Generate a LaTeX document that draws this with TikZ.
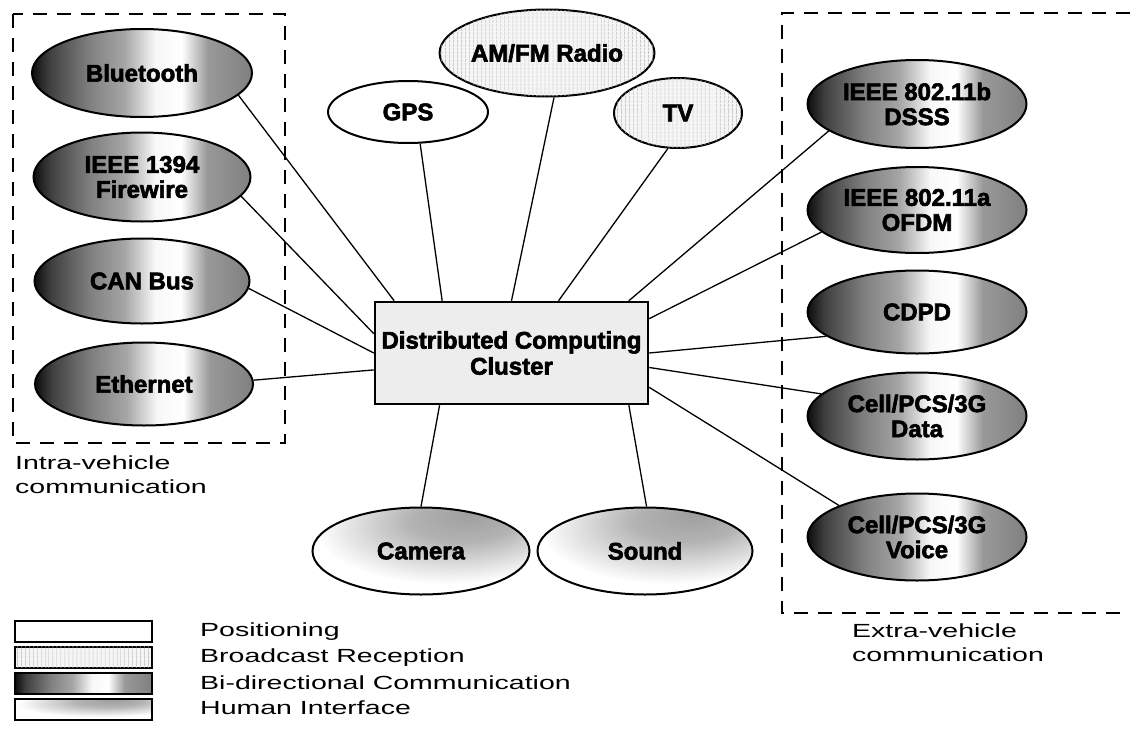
\documentclass[tikz,border=0pt]{standalone}
\usepackage{fontspec}
\setmainfont{Liberation Sans}[BoldFeatures={FakeBold=2.6}]
\newfontfamily\legfont{Liberation Sans}[FakeStretch=1.5]
\usetikzlibrary{shapes.geometric,patterns.meta}
\pgfdeclarehorizontalshading{bidirsh}{100bp}{color(0bp)=(black!95); color(25bp)=(black!95); color(29bp)=(black!75); color(38bp)=(black!50); color(46bp)=(black!35); color(53bp)=(black!3); color(59bp)=(white); color(65bp)=(black!40); color(75bp)=(black!50); color(100bp)=(black!50)}
\pgfdeclareradialshading{humansh}{\pgfpoint{12bp}{22bp}}{color(0bp)=(black!38); color(12bp)=(black!30); color(30bp)=(white); color(60bp)=(white)}
\tikzset{
  ell/.style={ellipse, draw, line width=2pt, inner sep=0pt, align=center,
    font=\fontsize{24}{25}\selectfont\bfseries},
  posit/.style={ell, fill=white},
  bcast/.style={ell, fill=black!4, postaction={pattern={Lines[angle=90,distance=4pt,line width=0.6pt]}, pattern color=black!35}},
  bidir/.style={ell, shade, shading=bidirsh},
  human/.style={ell, shade, shading=humansh},
  link/.style={line width=1.3pt},
  group/.style={line width=2.2pt, dash pattern=on 14pt off 10pt},
  legbox/.style={draw, line width=2pt, minimum width=137pt, minimum height=21pt, inner sep=0pt},
  legtext/.style={anchor=west, inner sep=0pt, font=\legfont\fontsize{19}{24}\selectfont},
  grouplabel/.style={anchor=north west, inner sep=0pt, align=left, font=\legfont\fontsize{19}{24}\selectfont}
}
\begin{document}
\begin{tikzpicture}[x=1pt, y=-1pt]
\path[use as bounding box] (0,0) rectangle (1134,744);

% group boxes
\draw[group] (13,14) rectangle (285,443);
\draw[group] (1130,13) -- (782,13) -- (782,613) -- (1124,613);
\node[grouplabel] (intra) at (15,456) {Intra-vehicle\\communication};
\node[grouplabel] (extra) at (852,624) {Extra-vehicle\\communication};

% central box
\node[draw, line width=2.5pt, fill=black!7, minimum width=273pt, minimum height=102pt, inner sep=0pt, align=center,
  font=\fontsize{24}{26}\selectfont\bfseries] (box) at (511.5,353) {Distributed Computing\\Cluster};

% intra-vehicle
\node[bidir, minimum width=220pt, minimum height=88pt] (bt) at (142,73) {Bluetooth};
\node[bidir, minimum width=217pt, minimum height=89pt] (fw) at (142,177) {IEEE 1394\\Firewire};
\node[bidir, minimum width=215pt, minimum height=85pt] (can) at (142,281) {CAN Bus};
\node[bidir, minimum width=218pt, minimum height=83pt] (eth) at (144,384) {Ethernet};

% extra-vehicle
\node[bidir, minimum width=219pt, minimum height=88pt] (dsss) at (917,104) {IEEE 802.11b\\DSSS};
\node[bidir, minimum width=219pt, minimum height=86pt] (ofdm) at (917,210) {IEEE 802.11a\\OFDM};
\node[bidir, minimum width=219pt, minimum height=83pt] (cdpd) at (917,312) {CDPD};
\node[bidir, minimum width=219pt, minimum height=87pt] (data) at (917,416) {Cell/PCS/3G\\Data};
\node[bidir, minimum width=219pt, minimum height=87pt] (voice) at (917,537) {Cell/PCS/3G\\Voice};

% top
\node[posit, minimum width=160pt, minimum height=62pt] (gps) at (408,112) {GPS};
\node[bcast, minimum width=201pt, minimum height=87pt] (radio) at (547,53) {AM/FM Radio};
\node[bcast, minimum width=128pt, minimum height=70pt] (tv) at (678,113) {TV};

% bottom
\node[human, minimum width=217pt, minimum height=87pt] (camera) at (421,551) {Camera};
\node[human, minimum width=215pt, minimum height=87pt] (sound) at (645,551) {Sound};

% connectors
\draw[link] (bt.-13) -- (box.156);
\draw[link] (fw.-11.5) -- (box.172.5);
\draw[link] (can.-4.8) -- (box.180);
\draw[link] (eth.2) -- (box.187.5);
\draw[link] (gps.-69) -- (box.143.3);
\draw[link] (radio.-81) -- (box.90);
\draw[link] (tv.-106) -- (box.48.3);
\draw[link] (dsss.197.5) -- (box.24.2);
\draw[link] (ofdm.193.7) -- (box.14.4);
\draw[link] (cdpd.195) -- (box.0);
\draw[link] (data.167) -- (box.-6.3);
\draw[link] (voice.158.7) -- (box.-14.4);
\draw[link] (camera.90) -- (box.216.3);
\draw[link] (sound.88) -- (box.336.2);

% legend
\node[legbox, fill=white] (l1) at (83.5,631) {};
\node[legbox, fill=black!4, postaction={pattern={Lines[angle=90,distance=4pt,line width=0.6pt]}, pattern color=black!35}] (l2) at (83.5,657) {};
\node[legbox, shade, shading=bidirsh] (l3) at (83.5,683) {};
\node[legbox, shade, shading=humansh] (l4) at (83.5,709) {};
\node[legtext] (t1) at (200,632) {Positioning};
\node[legtext] (t2) at (200,658) {Broadcast Reception};
\node[legtext] (t3) at (200,683) {Bi-directional Communication};
\node[legtext] (t4) at (200,708) {Human Interface};
\end{tikzpicture}
\end{document}
